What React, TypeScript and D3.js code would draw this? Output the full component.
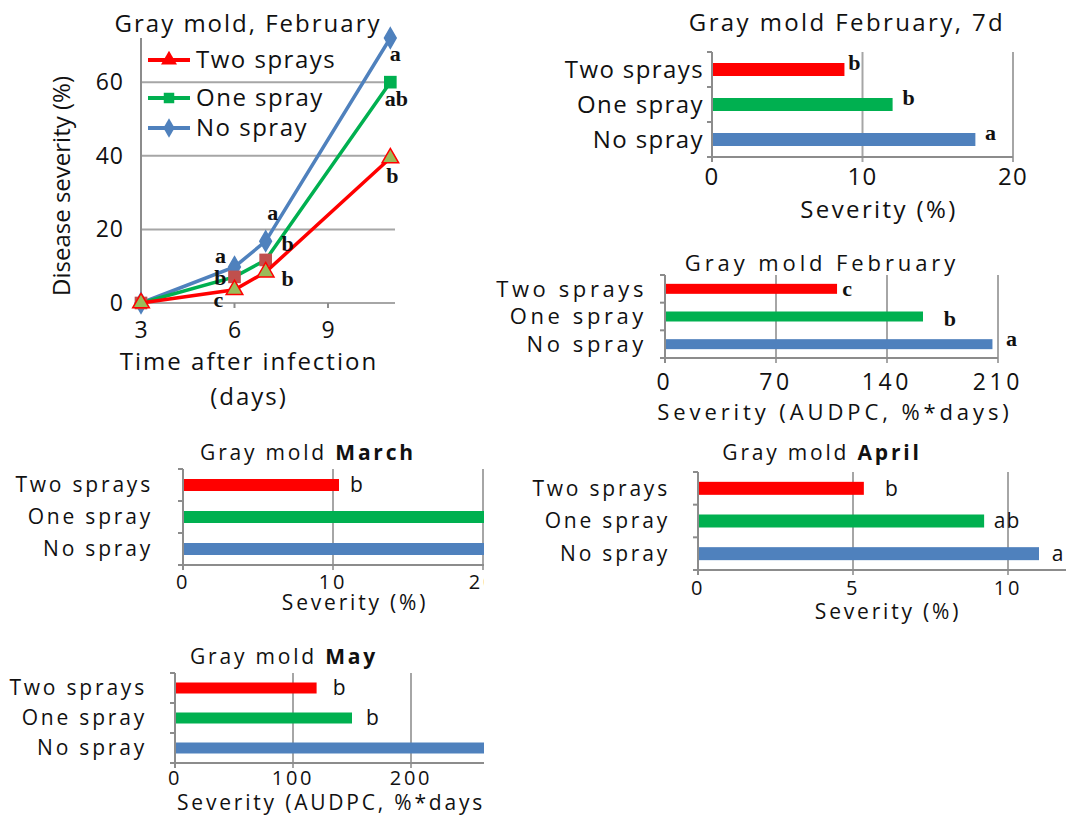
import React from "react";
import * as d3 from "d3";

const treatments = ["Two sprays", "One spray", "No spray"];
const barColors = ["#ff0000", "#00b050", "#4f81bd"];

// line chart: disease severity (%) by day after infection
const days = [3, 6, 7, 11];
const noSpray = [0, 9.8, 16.8, 72];
const oneSpray = [0, 7.1, 11.7, 60];
const twoSprays = [0, 3.6, 8.4, 39.4];
const noLetters = ["", "a", "a", "a"];
const oneLetters = ["", "b", "b", "ab"];
const twoLetters = ["", "c", "b", "b"];
const lineXTicks = [3, 6, 9];
const lineYTicks = [0, 20, 40, 60];

// bar charts (order: Two sprays, One spray, No spray)
const feb7dValues = [8.8, 12.0, 17.5];
const feb7dLetters = ["b", "b", "a"];
const feb7dTicks = [0, 10, 20];

const febAudpcValues = [108.5, 162.7, 206.5];
const febAudpcLetters = ["c", "b", "a"];
const febAudpcTicks = [0, 70, 140, 210];

const marchValues = [10.4, 22, 24];
const marchLetters = ["b", "", ""];
const marchTicks = [0, 10, 20];

const aprilValues = [5.35, 9.23, 11.0];
const aprilLetters = ["b", "ab", "a"];
const aprilTicks = [0, 5, 10];

const mayValues = [120, 150, 265];
const mayLetters = ["b", "b", ""];
const mayTicks = [0, 100, 200];

const SANS = "'Open Sans', 'DejaVu Sans', sans-serif";
const SERIF = "'Liberation Serif', 'DejaVu Serif', serif";
const GRID = "#a6a6a6";
const AXIS = "#8c8c8c";
const TXT = "#111";

function LineChart() {
  const x = d3.scaleLinear().domain([3, 11.15]).range([141, 395]);
  const y = d3.scaleLinear().domain([0, 72]).range([303, 38]);
  const line = d3.line<number>().x((_, i) => x(days[i])).y(d => y(d));

  const series = [
    { name: "No spray", vals: noSpray, letters: noLetters, color: "#4f81bd", sym: d3.symbolDiamond, size: 120,
      fills: ["#4f81bd", "#4f81bd", "#4f81bd", "#4f81bd"], stroke: "#4f81bd",
      off: [[0, 0], [-14, -12], [7, -29], [5, 15]] },
    { name: "One spray", vals: oneSpray, letters: oneLetters, color: "#00b050", sym: d3.symbolSquare, size: 160,
      fills: ["#c0504d", "#c0504d", "#c0504d", "#00b050"], stroke: "none",
      off: [[0, 0], [-14, 0], [22, -17], [6, 16]] },
    { name: "Two sprays", vals: twoSprays, letters: twoLetters, color: "#ff0000", sym: d3.symbolTriangle, size: 120,
      fills: ["#9bbb59", "#9bbb59", "#9bbb59", "#9bbb59"], stroke: "#ff0000",
      off: [[0, 0], [-16, 10], [22, 6], [2, 17]] },
  ];
  const legend = [
    { name: "Two sprays", color: "#ff0000", sym: d3.symbolTriangle, y: 60 },
    { name: "One spray", color: "#00b050", sym: d3.symbolSquare, y: 98 },
    { name: "No spray", color: "#4f81bd", sym: d3.symbolDiamond, y: 128 },
  ];

  return (
    <g>
      <text x={248} y={32} textAnchor="middle" fontFamily={SANS} fontSize={24} letterSpacing={2} fill={TXT}>
        Gray mold, February
      </text>
      {lineYTicks.map(t => (
        <g key={t}>
          <line x1={x(3)} x2={395} y1={y(t)} y2={y(t)} stroke={GRID} strokeWidth={2} />
          <text x={124} y={y(t)} dy="0.35em" textAnchor="end" fontFamily={SANS} fontSize={23} letterSpacing={1}
            fill={TXT}>{t}</text>
        </g>
      ))}
      <line x1={x(3)} x2={x(3)} y1={38} y2={y(0)} stroke={AXIS} strokeWidth={2} />
      {lineXTicks.map(t => (
        <g key={t}>
          <line x1={x(t)} x2={x(t)} y1={y(0)} y2={y(0) + 5} stroke={AXIS} strokeWidth={2} />
          <text x={x(t)} y={330} dy="0.35em" textAnchor="middle" fontFamily={SANS} fontSize={23} fill={TXT}>{t}</text>
        </g>
      ))}
      <text transform="translate(62,186) rotate(-90)" textAnchor="middle" dy="0.35em" fontFamily={SANS} fontSize={24}
        fill={TXT}>
        Disease severity (%)
      </text>
      <text x={249} y={362} dy="0.35em" textAnchor="middle" fontFamily={SANS} fontSize={24} letterSpacing={2} fill={TXT}>
        Time after infection
      </text>
      <text x={249} y={397} dy="0.35em" textAnchor="middle" fontFamily={SANS} fontSize={24} letterSpacing={2} fill={TXT}>
        (days)
      </text>
      {series.map(s => (
        <g key={s.name}>
          <path d={line(s.vals) || ""} fill="none" stroke={s.color} strokeWidth={3.5} />
          {s.vals.map((v, i) => (
            <path key={i} transform={`translate(${x(days[i])},${y(v)})`} d={d3.symbol(s.sym, s.size)() || ""}
              fill={s.fills[i]} stroke={s.stroke} strokeWidth={1.5} />
          ))}
        </g>
      ))}
      {series.map(s => s.letters.map((l, i) => l ? (
        <text key={s.name + i} x={x(days[i]) + s.off[i][0]} y={y(s.vals[i]) + s.off[i][1]} dy="0.35em"
          textAnchor="middle" fontFamily={SERIF} fontWeight="bold" fontSize={22} fill={TXT}>{l}</text>
      ) : null))}
      {legend.map(l => (
        <g key={l.name}>
          <line x1={148} x2={190} y1={l.y} y2={l.y} stroke={l.color} strokeWidth={4} />
          <path transform={`translate(169,${l.y})`} d={d3.symbol(l.sym, 110)() || ""} fill={l.color} />
          <text x={196} y={l.y} dy="0.35em" fontFamily={SANS} fontSize={24} letterSpacing={1.5} fill={TXT}>{l.name}</text>
        </g>
      ))}
    </g>
  );
}

type Cfg = {
  id: string; title: string; bold?: string; axisTitle: string; axisAnchor?: string; axisX: number; axisY: number;
  titleX: number; titleY: number; x0: number; x1: number; domain: [number, number]; top: number; bottom: number;
  barH: number; catX: number; tickY: number; fs: number; tickFs: number; ls: number; titleLs: number; clipX: number;
  axisEnd: number; serifLetters: boolean; letterOff: number[][];
};

function BarPanel({ cfg, values, letters, ticks }: { cfg: Cfg; values: number[]; letters: string[]; ticks: number[] }) {
  const x = d3.scaleLinear().domain(cfg.domain).range([cfg.x0, cfg.x1]);
  const y = d3.scaleBand().domain(treatments).range([cfg.top, cfg.bottom]);
  const bounds = [cfg.top, ...treatments.map(t => (y(t) as number) + y.bandwidth())];
  return (
    <g clipPath={`url(#${cfg.id})`}>
      <defs>
        <clipPath id={cfg.id}><rect x={0} y={0} width={cfg.clipX} height={816} /></clipPath>
      </defs>
      <text x={cfg.titleX} y={cfg.titleY} dy="0.35em" textAnchor="middle" fontFamily={SANS} fontSize={cfg.fs}
        letterSpacing={cfg.titleLs} fill={TXT}>
        <tspan>{cfg.title}</tspan>
        {cfg.bold ? <tspan fontWeight="bold">{cfg.bold}</tspan> : null}
      </text>
      {ticks.map(t => (
        <g key={t}>
          {t !== 0 ? <line x1={x(t)} x2={x(t)} y1={cfg.top} y2={cfg.bottom + 5} stroke={GRID} strokeWidth={2} /> : null}
          <text x={x(t)} y={cfg.tickY} dy="0.35em" textAnchor="middle" fontFamily={SANS} fontSize={cfg.tickFs}
            letterSpacing={cfg.ls} fill={TXT}>{t}</text>
        </g>
      ))}
      {treatments.map((t, i) => (
        <g key={t}>
          <rect x={x(0)} y={(y(t) as number) + y.bandwidth() / 2 - cfg.barH / 2} width={x(values[i]) - x(0)}
            height={cfg.barH} fill={barColors[i]} />
          <text x={cfg.catX} y={(y(t) as number) + y.bandwidth() / 2} dy="0.35em" textAnchor="end" fontFamily={SANS}
            fontSize={cfg.fs} letterSpacing={cfg.ls} fill={TXT}>{t}</text>
          {letters[i] ? (
            <text x={x(values[i]) + cfg.letterOff[i][0]} y={(y(t) as number) + y.bandwidth() / 2 + cfg.letterOff[i][1]}
              dy="0.35em" textAnchor="middle" fontFamily={cfg.serifLetters ? SERIF : SANS}
              fontWeight={cfg.serifLetters ? "bold" : "normal"} fontSize={cfg.serifLetters ? 22 : cfg.fs}
              letterSpacing={cfg.serifLetters ? 0 : 1} fill={TXT}>{letters[i]}</text>
          ) : null}
        </g>
      ))}
      <line x1={x(0)} x2={cfg.axisEnd} y1={cfg.bottom} y2={cfg.bottom} stroke={AXIS} strokeWidth={2} />
      <line x1={x(0)} x2={x(0)} y1={cfg.top} y2={cfg.bottom + 5} stroke={AXIS} strokeWidth={2} />
      {bounds.map((b, i) => (
        <line key={i} x1={x(0) - 5} x2={x(0)} y1={b} y2={b} stroke={AXIS} strokeWidth={2} />
      ))}
      <text x={cfg.axisX} y={cfg.axisY} dy="0.35em" textAnchor={cfg.axisAnchor || "middle"} fontFamily={SANS}
        fontSize={cfg.fs} letterSpacing={cfg.titleLs} fill={TXT}>{cfg.axisTitle}</text>
    </g>
  );
}

const feb7dCfg: Cfg = {
  id: "c1", title: "Gray mold February, 7d", axisTitle: "Severity (%)", axisX: 879, axisY: 210, titleX: 847, titleY: 23,
  x0: 712, x1: 1013, domain: [0, 20], top: 52, bottom: 157, barH: 13, catX: 704, tickY: 177, fs: 24, tickFs: 24,
  ls: 1.4, titleLs: 2.4, clipX: 1066, axisEnd: 1013, serifLetters: true, letterOff: [[10, -7], [16, -7], [15, -7]],
};
const febAudpcCfg: Cfg = {
  id: "c2", title: "Gray mold February", axisTitle: "Severity (AUDPC, %*days)", axisX: 835, axisY: 412, titleX: 822,
  titleY: 263, x0: 665, x1: 998, domain: [0, 210], top: 275, bottom: 358, barH: 10, catX: 647, tickY: 382, fs: 22,
  tickFs: 23, ls: 3.6, titleLs: 3.9, clipX: 1066, axisEnd: 998, serifLetters: true,
  letterOff: [[10, -1], [27, 2], [19, -6]],
};
const marchCfg: Cfg = {
  id: "c3", title: "Gray mold ", bold: "March", axisTitle: "Severity (%)", axisX: 355, axisY: 603, titleX: 308,
  titleY: 453, x0: 183, x1: 483, domain: [0, 20], top: 469, bottom: 565, barH: 12, catX: 153, tickY: 582, fs: 21,
  tickFs: 20, ls: 2.8, titleLs: 2.8, clipX: 484, axisEnd: 484, serifLetters: false,
  letterOff: [[18, 0], [0, 0], [0, 0]],
};
const aprilCfg: Cfg = {
  id: "c4", title: "Gray mold ", bold: "April", axisTitle: "Severity (%)", axisX: 888, axisY: 612, titleX: 822,
  titleY: 453, x0: 698, x1: 1008, domain: [0, 10], top: 472, bottom: 570, barH: 13, catX: 670, tickY: 588, fs: 21,
  tickFs: 20, ls: 2.8, titleLs: 2.8, clipX: 1066, axisEnd: 1066, serifLetters: false,
  letterOff: [[28, 0], [23, 0], [19, 0]],
};
const mayCfg: Cfg = {
  id: "c5", title: "Gray mold ", bold: "May", axisTitle: "Severity (AUDPC, %*days)", axisAnchor: "start", axisX: 177,
  axisY: 803, titleX: 284, titleY: 657, x0: 175, x1: 411, domain: [0, 200], top: 673, bottom: 763, barH: 11,
  catX: 147, tickY: 778, fs: 21, tickFs: 20, ls: 2.8, titleLs: 2.8, clipX: 484, axisEnd: 484, serifLetters: false,
  letterOff: [[23, 0], [21, 0], [0, 0]],
};

export default function App() {
  return (
    <svg width={1066} height={816} style={{ position: "absolute", left: 0, top: 0, background: "#fff" }}>
      <rect width={1066} height={816} fill="#fff" />
      <LineChart />
      <BarPanel cfg={feb7dCfg} values={feb7dValues} letters={feb7dLetters} ticks={feb7dTicks} />
      <BarPanel cfg={febAudpcCfg} values={febAudpcValues} letters={febAudpcLetters} ticks={febAudpcTicks} />
      <BarPanel cfg={marchCfg} values={marchValues} letters={marchLetters} ticks={marchTicks} />
      <BarPanel cfg={aprilCfg} values={aprilValues} letters={aprilLetters} ticks={aprilTicks} />
      <BarPanel cfg={mayCfg} values={mayValues} letters={mayLetters} ticks={mayTicks} />
    </svg>
  );
}
